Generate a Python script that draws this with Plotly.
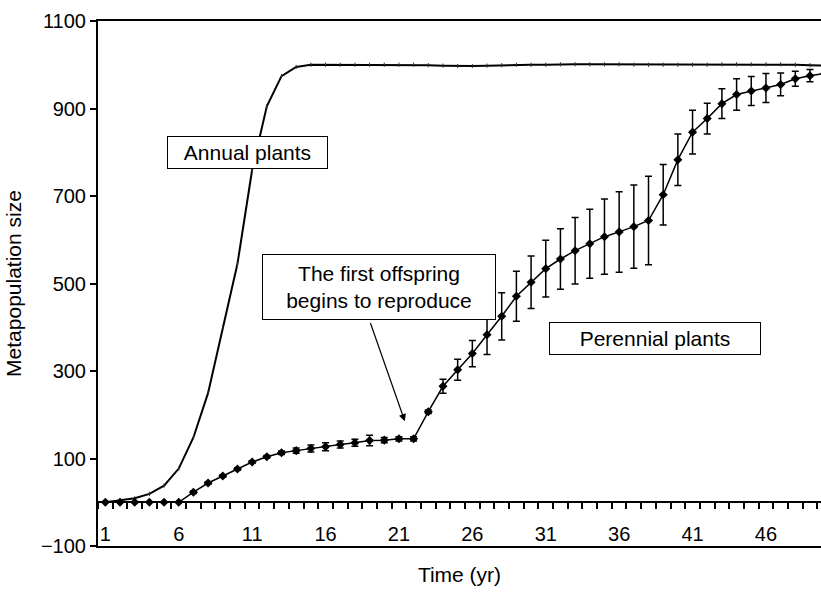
import plotly.graph_objects as go

# ---- data ----
years = list(range(1, 51))

annual = [0, 4, 9, 19, 38, 77, 148, 250, 400, 545,
          760, 905, 974, 995, 1000, 1000, 1000, 1000, 1000, 1000,
          1000, 1000, 999, 998, 997, 997, 998, 999, 1000, 1000,
          1000, 1001, 1001, 1001, 1001, 1001, 1000, 1000, 1000, 1000,
          1000, 1000, 1001, 1001, 1001, 1001, 1001, 1000, 999, 998]

perennial = [0, 0, 0, 0, 0, 0, 23, 44, 60, 76,
             92, 104, 113, 118, 123, 127, 132, 136, 141, 142,
             145, 145, 207, 265, 303, 340, 383, 425, 471, 503,
             534, 556, 575, 591, 607, 618, 630, 644, 703, 783,
             846, 877, 911, 932, 940, 947, 955, 968, 975, 980]

perennial_err = [0, 0, 0, 0, 0, 0, 3, 3, 3, 3,
                 3, 3, 4, 6, 8, 9, 8, 8, 12, 6,
                 5, 5, 4, 16, 24, 30, 45, 54, 57, 60,
                 65, 69, 76, 79, 86, 92, 95, 101, 69, 59,
                 50, 35, 34, 36, 33, 33, 26, 17, 14, 14]

x_tickvals = [1, 6, 11, 16, 21, 26, 31, 36, 41, 46]
x_ticktext = ["1", "6", "11", "16", "21", "26", "31", "36", "41", "46"]
y_tickvals = [-100, 100, 300, 500, 700, 900, 1100]

FONT = "Liberation Sans, Arial, Helvetica, sans-serif"
XR = [0.5, 49.75]
TXT = dict(family=FONT, size=21, color="black")

fig = go.Figure()

fig.add_trace(go.Scatter(
    x=years, y=annual, mode="lines+markers", xaxis="x", yaxis="y",
    line=dict(color="black", width=2),
    marker=dict(symbol="line-ns", size=3, line=dict(color="#333", width=1)),
    showlegend=False, hoverinfo="skip"))

fig.add_trace(go.Scatter(
    x=years, y=perennial, mode="lines+markers", xaxis="x2", yaxis="y",
    line=dict(color="black", width=1.5),
    marker=dict(symbol="diamond", size=7, color="black"),
    error_y=dict(type="data", array=perennial_err, visible=True,
                 color="black", thickness=1.5, width=3.5),
    showlegend=False, hoverinfo="skip"))

# invisible trace so the tick-only axis is drawn
fig.add_trace(go.Scatter(
    x=years, y=perennial, mode="markers", xaxis="x3", yaxis="y",
    marker=dict(opacity=0), showlegend=False, hoverinfo="skip"))

# annotations
fig.add_annotation(x=10.67, y=800, xref="x", yref="y", text="Annual plants",
                   showarrow=False, bgcolor="white", bordercolor="black",
                   borderwidth=1, borderpad=2, width=155, height=27, font=TXT)
fig.add_annotation(x=21.40, y=185, xref="x", yref="y", ax=19.02, ay=413,
                   axref="x", ayref="y", text="", showarrow=True,
                   arrowhead=2, arrowsize=1.2, arrowwidth=1.2, arrowcolor="black",
                   standoff=0, startstandoff=0)
fig.add_annotation(x=19.63, y=491, xref="x", yref="y",
                   text="The first offspring<br>begins to reproduce",
                   showarrow=False, bgcolor="white", bordercolor="black",
                   borderwidth=1, borderpad=2, width=228, height=60, font=TXT)
fig.add_annotation(x=38.43, y=375, xref="x", yref="y", text="Perennial plants",
                   showarrow=False, bgcolor="white", bordercolor="black",
                   borderwidth=1, borderpad=2, width=206, height=27, font=TXT)

fig.update_layout(
    width=821, height=592,
    margin=dict(l=98, r=0, t=21, b=46),
    paper_bgcolor="white", plot_bgcolor="white",
    font=dict(family=FONT, size=20, color="black"),
    xaxis=dict(range=XR, showline=True, mirror=True, linecolor="black", linewidth=2,
               ticks="", showticklabels=False, showgrid=False, zeroline=False,
               automargin=False,
               title=dict(text="Time (yr)", standoff=20,
                          font=dict(family=FONT, size=21, color="black"))),
    xaxis2=dict(range=XR, overlaying="x", anchor="free", position=1/12, side="bottom",
                showline=True, linecolor="black", linewidth=2,
                tickvals=x_tickvals, ticktext=x_ticktext, ticks="",
                ticklabelstandoff=14,
                tickfont=dict(family=FONT, size=20, color="black"),
                showgrid=False, zeroline=False, automargin=False),
    xaxis3=dict(range=XR, overlaying="x", anchor="free", position=1/12, side="bottom",
                showline=False, tickmode="linear", tick0=0.5, dtick=1,
                ticks="outside", ticklen=6, tickwidth=1.5, tickcolor="black",
                showticklabels=False, showgrid=False, zeroline=False,
                automargin=False),
    yaxis=dict(range=[-100, 1100], tickvals=y_tickvals, ticks="outside", ticklen=6,
               tickwidth=1.5, tickcolor="black", showline=True, linecolor="black",
               tickfont=dict(family=FONT, size=20, color="black"),
               linewidth=2, showgrid=False, zeroline=False, automargin=False,
               title=dict(text="Metapopulation size", standoff=14,
                          font=dict(family=FONT, size=21, color="black"))),
)

fig.write_html("out.html")
